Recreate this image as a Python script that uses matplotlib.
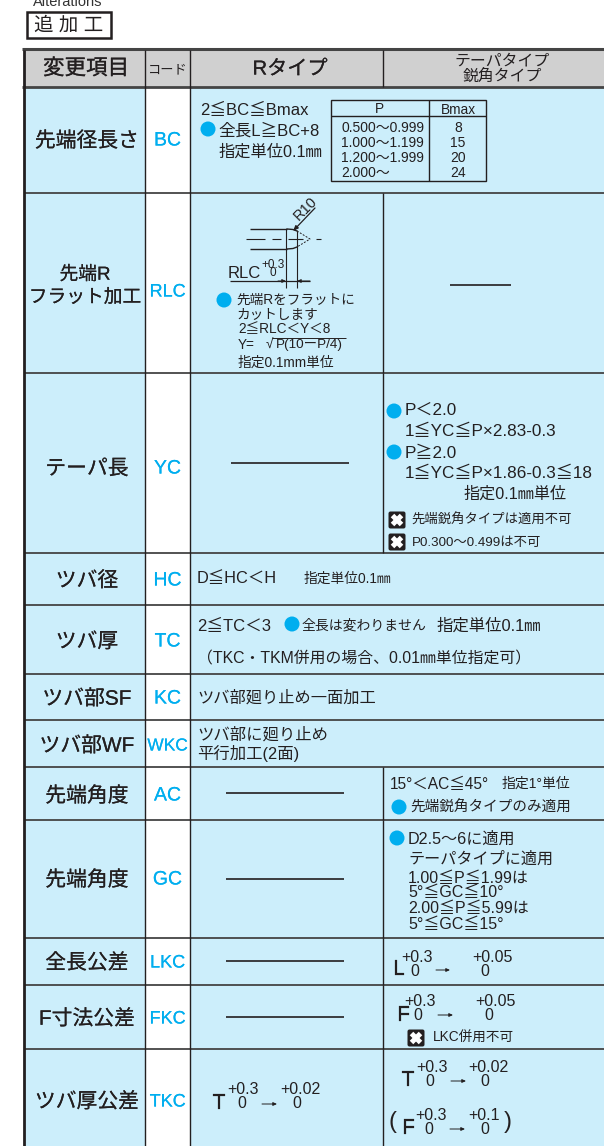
import matplotlib
matplotlib.use("Agg")
import matplotlib.pyplot as plt
import matplotlib.patheffects as pe
from matplotlib.patches import Rectangle, Circle, FancyBboxPatch

plt.rcParams['font.family'] = ['Liberation Sans', 'Noto Sans CJK JP', 'DejaVu Sans']

LIGHT = '#CCEEFB'
GREY = '#D0D0D0'
BLUE = '#00AEEF'
INK = '#231F20'

# table contents
headers = ['変更項目', 'コード', 'Rタイプ']
items = ['先端径長さ', '先端R\nフラット加工', 'テーパ長', 'ツバ径', 'ツバ厚', 'ツバ部SF',
         'ツバ部WF', '先端角度', '先端角度', '全長公差', 'F寸法公差', 'ツバ厚公差']
codes = ['BC', 'RLC', 'YC', 'HC', 'TC', 'KC', 'WKC', 'AC', 'GC', 'LKC', 'FKC', 'TKC']
p_ranges = ['0.500〜0.999', '1.000〜1.199', '1.200〜1.999', '2.000〜']
bmax = ['8', '15', '20', '24']

# layout, pixels
row_edges = [87, 193, 373, 553, 605, 674, 720, 767, 820, 938, 985, 1049, 1146]
label_y = [139, 290, 467, 579, 640, 697, 744, 794, 878, 961, 1017, 1100]
col_x = [24, 145, 190, 383, 604]
split_rows = [1, 2, 7, 8, 9, 10, 11]   # rows with separate R / taper cells
dash_cells = [(1, 'r'), (2, 'l'), (7, 'l'), (8, 'l'), (9, 'l'), (10, 'l')]

fig = plt.figure(figsize=(6.04, 11.46), dpi=100)
ax = fig.add_axes([0, 0, 1, 1])
ax.set_xlim(0, 604)
ax.set_ylim(1146, 0)
ax.axis('off')


def txt(x, y, s, size=9.5, ha='left', color=INK, stroke=0, **kw):
    t = ax.text(x, y + 2, s, fontsize=size, ha=ha, va='center', color=color, **kw)
    if stroke:
        t.set_path_effects([pe.withStroke(linewidth=stroke, foreground=color)])


def dot(x, y, r=7.5):
    ax.add_patch(Circle((x, y), r, fc=BLUE, ec='none', zorder=3))


def cross(x, y):
    ax.add_patch(FancyBboxPatch((x - 7, y - 7), 14, 14, boxstyle='round,pad=1.5,rounding_size=2',
                                fc=INK, ec='none', zorder=3))
    ax.plot([x - 4.5, x + 4.5], [y - 4.5, y + 4.5], color='white', lw=3.6, zorder=4, solid_capstyle='butt')
    ax.plot([x - 4.5, x + 4.5], [y + 4.5, y - 4.5], color='white', lw=3.6, zorder=4, solid_capstyle='butt')


def tol(x, y, up, x_low, size=11.5):
    # stacked tolerance, lower value is always 0
    txt(x, y, up, size)
    txt(x_low, y + 14, '0', size)


def arrow(x0, x1, y, lw=0.7):
    ax.annotate('', xy=(x1, y), xytext=(x0, y),
                arrowprops=dict(arrowstyle='-|>,head_length=0.22,head_width=0.1', lw=lw, color=INK,
                                shrinkA=0, shrinkB=0))


def hline(x0, x1, y, lw=1.2, color=INK):
    ax.plot([x0, x1], [y, y], color=color, lw=lw, solid_capstyle='butt', zorder=2)


def vline(x, y0, y1, lw=1.0, color=INK):
    ax.plot([x, x], [y0, y1], color=color, lw=lw, solid_capstyle='butt', zorder=2)


# title
txt(33, 0, 'Alterations', 10.5, color='#333333')
ax.add_patch(Rectangle((27, 12), 84, 26, fc='white', ec=INK, lw=1.8))
txt(69, 24, '追 加 工', 14, ha='center')

# backgrounds
ax.add_patch(Rectangle((col_x[0], 50), col_x[4] - col_x[0], row_edges[0] - 50, fc=GREY, ec='none'))
ax.add_patch(Rectangle((col_x[0], row_edges[0]), col_x[4] - col_x[0], row_edges[-1] - row_edges[0],
                       fc=LIGHT, ec='none'))
ax.add_patch(Rectangle((col_x[1], row_edges[0]), col_x[2] - col_x[1], row_edges[-1] - row_edges[0],
                       fc='white', ec='none'))

# grid
hline(col_x[0] - 2, 604, 49, 2.2, '#444444')
hline(col_x[0] - 2, 604, 87, 2.0, '#444444')
for y in row_edges[1:-1]:
    hline(col_x[0], 604, y, 1.3, '#444444')
vline(col_x[0], 50, 1146, 2.0)
vline(col_x[1], 50, 1146)
vline(col_x[2], 50, 1146)
vline(col_x[3], 50, 87)
for r in split_rows:
    vline(col_x[3], row_edges[r], row_edges[r + 1])

# header
txt(86, 67, headers[0], 15.5, ha='center', stroke=0.15)
txt(168, 68, headers[1], 9.5, ha='center')
txt(290, 67, headers[2], 14.5, ha='center', stroke=0.15)
txt(502, 59, 'テーパタイプ', 11.4, ha='center')
txt(502, 75, '鋭角タイプ', 11.4, ha='center')

# first columns
for i, name in enumerate(items):
    if '\n' in name:
        a, b = name.split('\n')
        txt(85, 273, a, 13.5, ha='center', stroke=0.1)
        txt(85, 296, b, 13.5, ha='center', stroke=0.1)
    else:
        txt(87, label_y[i], name, 15, ha='center', stroke=0.1)
    size = 13 if len(codes[i]) > 2 else 14
    if codes[i] == 'WKC':
        size = 12.5
    txt(167.5, label_y[i], codes[i], size, ha='center', color=BLUE, stroke=0.1)

# dashes for cells that do not apply
for r, side in dash_cells:
    yc = (row_edges[r] + row_edges[r + 1]) / 2
    if side == 'r':
        hline(450, 511, yc + 2, 1.2)
    else:
        hline(231 if r == 2 else 226, 349 if r == 2 else 344, yc - 0.5, 1.2)

# BC
txt(200, 108, '2≦BC≦Bmax', 12)
dot(208, 129)
txt(218, 129, '全長L≧BC+8', 12)
txt(218, 150, '指定単位0.1㎜', 11.7)
ax.add_patch(Rectangle((331, 100), 155, 81, fc='none', ec=INK, lw=1.0, zorder=3))
hline(331, 486, 115.5, 1.0)
vline(429, 100, 181)
txt(379, 107, 'P', 9.8, ha='center')
txt(458, 108, 'Bmax', 9.8, ha='center')
for i in range(4):
    txt(341, 126 + i * 15, p_ranges[i], 10)
    txt(458, 126 + i * 15, bmax[i], 10, ha='center')

# RLC sketch
hline(250, 287, 229, 1.0)
hline(250, 287, 249, 1.0)
ax.plot([287, 293, 297], [229, 229.5, 231], color=INK, lw=1.0)
ax.plot([287, 293, 297], [249, 248.5, 247], color=INK, lw=1.0)
ax.plot([297, 310, 297], [231, 239, 247], color=INK, lw=0.7, ls=(0, (2, 1.5)))
for x0, x1 in [(246, 265), (272, 281), (288, 303), (316, 321)]:
    hline(x0, x1, 239, 0.8)
vline(286, 229, 288, 0.8)
vline(297, 231, 288, 0.8)
ax.annotate('', xy=(293, 231), xytext=(315, 208),
            arrowprops=dict(arrowstyle='-|>,head_length=0.3,head_width=0.12', lw=0.9, color=INK,
                            shrinkA=0, shrinkB=0))
txt(305, 207, 'R10', 10.5, ha='center', rotation=45, rotation_mode='anchor')
txt(228, 271, 'RLC', 12)
txt(261, 263, '+0.3', 8.5)
txt(269, 271, '0', 8.5)
hline(230, 310, 281, 0.9)
arrow(278, 286, 281)
arrow(310, 297, 281)
dot(224, 300)
txt(236, 298, '先端Rをフラットに', 9.8)
txt(236, 313, 'カットします', 9.8)
txt(238, 327, '2≦RLC＜Y＜8', 9.8)
txt(238, 343, 'Y=', 9.8)
txt(266, 343, '√', 9.8)
hline(272, 346, 338, 0.7)
txt(276, 343, 'P(10ーP/4)', 9.7)
txt(238, 361, '指定0.1mm単位', 9.9)

# YC
dot(394, 411)
txt(405, 408, 'P＜2.0', 12.3)
txt(405, 429, '1≦YC≦P×2.83-0.3', 12.3)
dot(394, 452)
txt(405, 451, 'P≧2.0', 12.3)
txt(405, 471, '1≦YC≦P×1.86-0.3≦18', 12.3)
txt(463, 492, '指定0.1㎜単位', 11.6)
cross(397, 520)
txt(411, 518, '先端鋭角タイプは適用不可', 9.6)
cross(397, 542)
txt(412, 541, 'P0.300〜0.499は不可', 9.6)

# HC, TC
txt(197, 577, 'D≦HC＜H', 11.8)
txt(304, 577, '指定単位0.1㎜', 9.9)
txt(197, 624, '2≦TC＜3', 12)
dot(292, 624)
txt(302, 624, '全長は変わりません', 10)
txt(436, 624, '指定単位0.1㎜', 11.8)
txt(197, 657, '（TKC・TKM併用の場合、0.01㎜単位指定可）', 11.4)

# KC, WKC
txt(197, 696, 'ツバ部廻り止め一面加工', 11.7)
txt(197, 733, 'ツバ部に廻り止め', 11.8)
txt(197, 751, '平行加工(2面)', 11.8)

# AC
txt(390, 782, '15°＜AC≦45°', 11.2)
txt(502, 782, '指定1°単位', 10)
dot(399, 807)
txt(410, 806, '先端鋭角タイプのみ適用', 10.5)

# GC
dot(397, 838)
txt(408, 837, 'D2.5〜6に適用', 11.6)
txt(408, 857, 'テーパタイプに適用', 11.6)
txt(408, 876, '1.00≦P≦1.99は', 11.5)
txt(408, 891, '5°≦GC≦10°', 11.5)
txt(408, 906, '2.00≦P≦5.99は', 11.5)
txt(408, 922, '5°≦GC≦15°', 11.5)

# tolerances
txt(393, 967, 'L', 15, stroke=0.15)
tol(401, 955, '+0.3', 410)
arrow(436, 450, 970)
tol(472, 955, '+0.05', 480)

txt(397, 1013, 'F', 15, stroke=0.15)
tol(404, 1000, '+0.3', 413)
arrow(438, 453, 1015)
tol(475, 1000, '+0.05', 484)
cross(416, 1038)
txt(433, 1036, 'LKC併用不可', 9.8)

txt(213, 1101, 'T', 15, stroke=0.15)
tol(227, 1088, '+0.3', 237)
arrow(262, 277, 1104)
tol(280, 1088, '+0.02', 292)

txt(402, 1078, 'T', 15, stroke=0.15)
tol(416, 1065, '+0.3', 425)
arrow(451, 466, 1081)
tol(468, 1065, '+0.02', 480)

txt(389, 1120, '(', 17)
txt(402, 1126, 'F', 15, stroke=0.15)
tol(415, 1113, '+0.3', 424)
arrow(450, 465, 1129)
tol(468, 1113, '+0.1', 480)
txt(504, 1120, ')', 17)

fig.savefig('out.png', dpi=100)
